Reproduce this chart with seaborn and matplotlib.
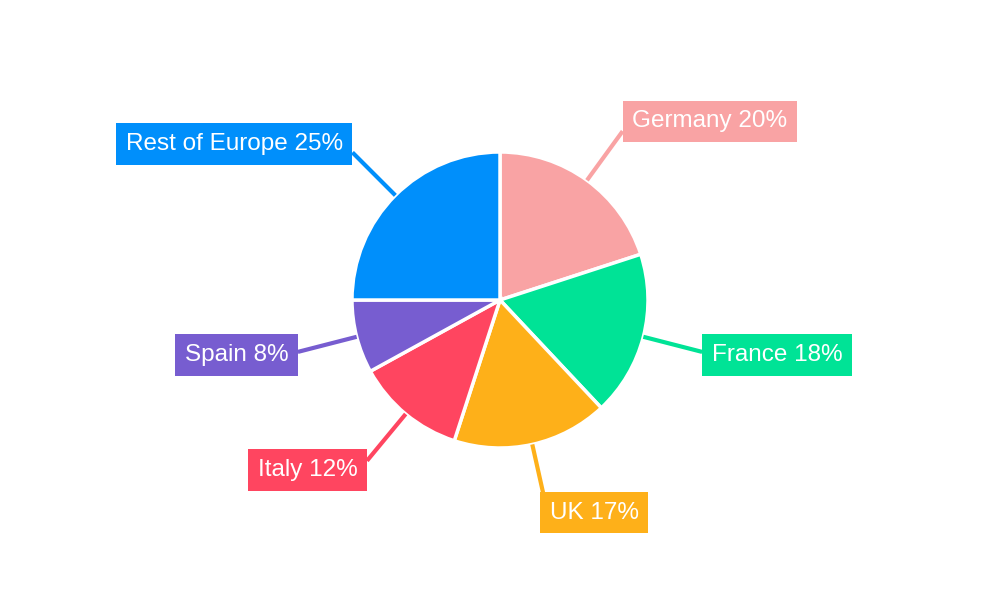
import numpy as np
import matplotlib
matplotlib.use("Agg")
import matplotlib.pyplot as plt
import seaborn as sns

# Data
countries = ["Germany", "France", "UK", "Italy", "Spain", "Rest of Europe"]
shares = [20, 18, 17, 12, 8, 25]
colors = ["#F9A3A4", "#00E396", "#FEB019", "#FF4560", "#775DD0", "#008FFB"]

sns.set_theme(style="white")
plt.rcParams['font.family'] = ['Liberation Sans', 'DejaVu Sans']

fig = plt.figure(figsize=(10, 6), dpi=100)
ax = fig.add_axes([0, 0, 1, 1])

cx, cy, r = 500, 300, 148
wedges, _ = ax.pie(shares, colors=sns.color_palette(colors), startangle=90,
                   counterclock=False, center=(cx, cy), radius=r,
                   wedgeprops=dict(edgecolor="white", linewidth=2.5))

fs = 17.5
pad_px = 0.4 * fs * 100 / 72

# Leader lines and labels
for w, name, pct, col in zip(wedges, countries, shares, colors):
    mid = np.deg2rad((w.theta1 + w.theta2) / 2)
    x0, y0 = cx + r * np.cos(mid), cy + r * np.sin(mid)
    x1, y1 = cx + 1.41 * r * np.cos(mid), cy + 1.41 * r * np.sin(mid)
    ax.plot([x0, x1], [y0, y1], color=col, lw=3, solid_capstyle="butt", zorder=1)
    s = np.sin(mid)
    ha = "left" if np.cos(mid) >= 0 else "right"
    if s < -0.9:
        va, tx, ty = "top", x1 + 4, y1 + 2
    else:
        va, ty = "center", y1 + 12 * s
        tx = x1 + (pad_px if ha == "left" else -pad_px)
    ax.text(tx, ty, f"{name} {pct}%", ha=ha, va=va, color="white", fontsize=fs,
            zorder=3,
            bbox=dict(boxstyle="square,pad=0.4", fc=col, ec="none"))

ax.set_xlim(0, 1000)
ax.set_ylim(0, 600)
ax.set_aspect("equal")
ax.axis("off")

fig.savefig("out.png", dpi=100)
